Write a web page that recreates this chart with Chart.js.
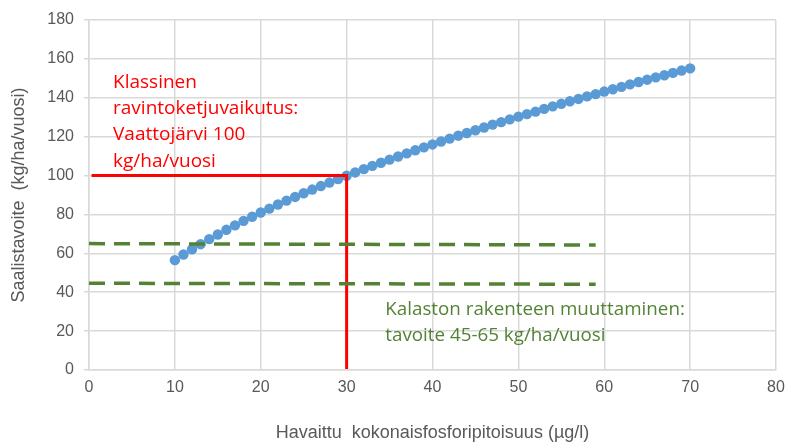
<!DOCTYPE html>
<html>
<head>
<meta charset="utf-8">
<script src="https://cdn.jsdelivr.net/npm/chart.js@4.4.1/dist/chart.umd.min.js"></script>
<style>
    html, body { margin: 0; padding: 0; background: #fff; }
    #wrap { width: 787px; height: 444px; position: relative; }
</style>
</head>
<body>
<div id="wrap"><canvas id="chart" width="787" height="444"></canvas></div>
<script>
    // phosphorus (µg/l) vs catch target (kg/ha/vuosi)
    const phosphorus = [10, 11, 12, 13, 14, 15, 16, 17, 18, 19, 20, 21, 22, 23, 24, 25, 26, 27, 28, 29,
        30, 31, 32, 33, 34, 35, 36, 37, 38, 39, 40, 41, 42, 43, 44, 45, 46, 47, 48, 49,
        50, 51, 52, 53, 54, 55, 56, 57, 58, 59, 60, 61, 62, 63, 64, 65, 66, 67, 68, 69, 70];
    const catchTarget = [56.5, 59.4, 62.1, 64.7, 67.3, 69.7, 72.1, 74.4, 76.7, 78.8, 81.0, 83.0, 85.1, 87.1, 89.0, 90.9, 92.8, 94.6, 96.4, 98.2,
        99.9, 101.6, 103.3, 105.0, 106.6, 108.2, 109.8, 111.4, 113.0, 114.5, 116.0, 117.5, 119.0, 120.5, 121.9, 123.3, 124.7, 126.2, 127.5, 128.9,
        130.3, 131.6, 132.9, 134.3, 135.6, 136.9, 138.2, 139.4, 140.7, 141.9, 143.2, 144.4, 145.6, 146.9, 148.1, 149.3, 150.5, 151.6, 152.8, 154.0, 155.1];

    // red guide: 30 µg/l -> 100 kg/ha/vuosi
    const redX = [0.3, 30, 30];
    const redY = [100, 100, 0.5];

    // green target band 45-65
    const upperX = [0, 59];
    const upperY = [65, 64.3];
    const lowerX = [0, 59];
    const lowerY = [44.6, 44.1];

    const redText = ['Klassinen', 'ravintoketjuvaikutus:', 'Vaattojärvi 100', 'kg/ha/vuosi'];
    const greenText = ['Kalaston rakenteen muuttaminen:', 'tavoite 45-65 kg/ha/vuosi'];

    const tickColor = '#595959';
    const gridColor = '#d9d9d9';
    const tickFont = { family: '"Liberation Sans Narrow", "Liberation Sans", Arial', size: 16 };

    function toPoints(xs, ys) {
        return xs.map(function(x, i) { return { x: x, y: ys[i] }; });
    }

    const annotationPlugin = {
        id: 'notes',
        afterDatasetsDraw: function(chart) {
            const ctx = chart.ctx;
            const xs = chart.scales.x;
            const ys = chart.scales.y;
            ctx.save();
            ctx.font = '19px "Open Sans", "Noto Sans", sans-serif';
            ctx.textBaseline = 'middle';
            ctx.fillStyle = '#ff0000';
            redText.forEach(function(line, i) {
                ctx.fillText(line, xs.getPixelForValue(2.8), ys.getPixelForValue(148) + i * 26.3);
            });
            ctx.font = '18.8px "Open Sans", "Noto Sans", sans-serif';
            ctx.fillStyle = '#548235';
            greenText.forEach(function(line, i) {
                ctx.fillText(line, xs.getPixelForValue(34.5), ys.getPixelForValue(30.8) + i * 26);
            });
            ctx.restore();
        }
    };

    new Chart(document.getElementById('chart'), {
        type: 'scatter',
        data: {
            datasets: [
                { type: 'line', data: toPoints(upperX, upperY), borderColor: '#548235', borderWidth: 3.5, borderDash: [16, 9], pointRadius: 0, fill: false },
                { type: 'line', data: toPoints(lowerX, lowerY), borderColor: '#548235', borderWidth: 3.5, borderDash: [16, 9], pointRadius: 0, fill: false },
                { type: 'line', data: toPoints(redX, redY), borderColor: '#ff0000', borderWidth: 3, pointRadius: 0, fill: false },
                { data: toPoints(phosphorus, catchTarget), backgroundColor: '#5b9bd5', borderWidth: 0, pointRadius: 5.2 }
            ]
        },
        options: {
            responsive: false,
            animation: false,
            layout: { padding: { top: 20, right: 11, left: 0, bottom: 0 } },
            plugins: { legend: { display: false }, tooltip: { enabled: false } },
            scales: {
                x: {
                    type: 'linear', min: 0, max: 80,
                    ticks: { stepSize: 10, color: tickColor, font: tickFont, padding: 8, maxRotation: 0 },
                    grid: { color: gridColor, drawTicks: false, lineWidth: 1.5 },
                    border: { color: gridColor, width: 1.5 },
                    title: { display: true, text: 'Havaittu  kokonaisfosforipitoisuus (µg/l)', color: tickColor, font: { family: '"Liberation Sans Narrow", "Liberation Sans", Arial', size: 18 }, padding: { top: 20, bottom: 0 } },
                    afterFit: function(scale) {
                        scale.height = 74;
                        scale.paddingRight = 0;
                        scale.paddingLeft = 0;
                    }
                },
                y: {
                    min: 0, max: 180,
                    ticks: {
                        stepSize: 10, color: tickColor, font: tickFont, padding: 10,
                        callback: function(v) { return v % 20 === 0 ? v : ''; }
                    },
                    grid: {
                        color: function(c) { return c.tick && c.tick.value % 20 === 0 ? gridColor : 'rgba(0,0,0,0)'; },
                        tickColor: gridColor, tickLength: 5, lineWidth: 1.5
                    },
                    border: { color: gridColor, width: 1.5 },
                    title: { display: true, text: 'Saalistavoite  (kg/ha/vuosi)', color: tickColor, font: { family: '"Liberation Sans Narrow", "Liberation Sans", Arial', size: 18 }, padding: { top: 8, bottom: 6 } },
                    afterFit: function(scale) {
                        scale.width = 89;
                        scale.paddingTop = 0;
                        scale.paddingBottom = 0;
                    }
                }
            }
        },
        plugins: [annotationPlugin]
    });
</script>
</body>
</html>
